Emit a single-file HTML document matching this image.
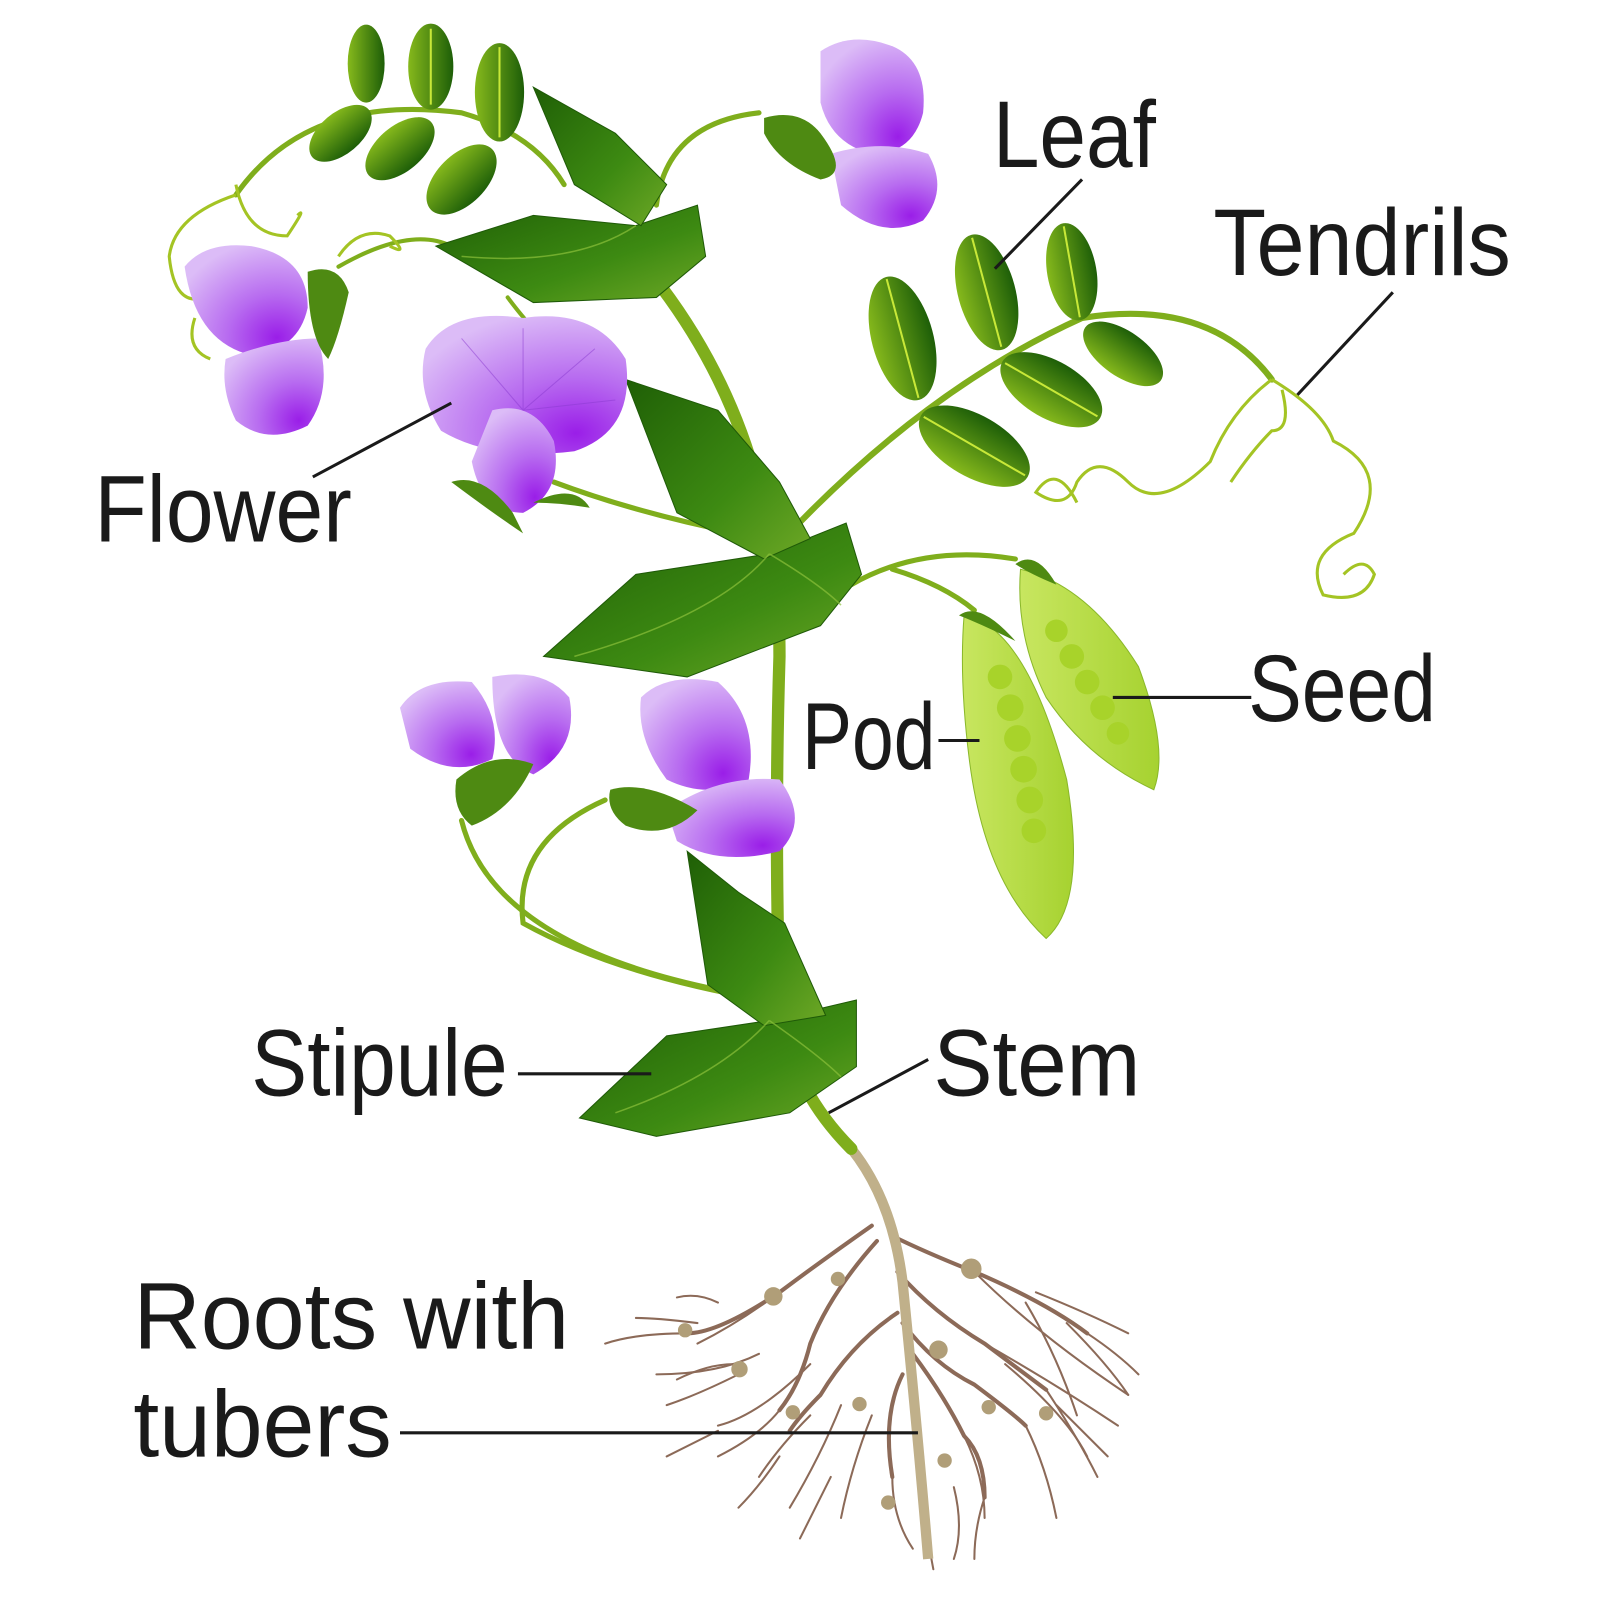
<!DOCTYPE html>
<html><head><meta charset="utf-8"><style>
html,body{margin:0;padding:0;background:#fff}
svg{display:block}
text{font-family:"Liberation Sans",sans-serif;fill:#1a1a1a}
</style></head><body>
<svg width="1600" height="1600" viewBox="0 0 1560 1560" xmlns="http://www.w3.org/2000/svg">
<defs>
<linearGradient id="lg" x1="0" y1="0" x2="1" y2="1"><stop offset="0" stop-color="#1f5f06"/><stop offset="0.6" stop-color="#3d8a12"/><stop offset="1" stop-color="#6ea826"/></linearGradient>
<linearGradient id="lf" x1="0" y1="0" x2="1" y2="0"><stop offset="0" stop-color="#86b91c"/><stop offset="1" stop-color="#1d5e08"/></linearGradient>
<radialGradient id="pu" cx="0.75" cy="0.85" r="0.9"><stop offset="0" stop-color="#9a1ee8"/><stop offset="0.45" stop-color="#b86cf0"/><stop offset="1" stop-color="#dcbcf7"/></radialGradient>
<linearGradient id="pod" x1="0" y1="0" x2="1" y2="0"><stop offset="0" stop-color="#c8e660"/><stop offset="1" stop-color="#a6d230"/></linearGradient>
</defs>

<!-- roots -->
<g fill="none" stroke="#8c6a58" stroke-linecap="round">
<g stroke-width="4">
<path d="M850 1195 Q800 1230 760 1260 Q700 1300 670 1300"/>
<path d="M855 1210 Q810 1260 790 1310 Q780 1350 760 1375"/>
<path d="M875 1280 Q830 1310 800 1360 Q780 1380 770 1395"/>
<path d="M870 1205 Q900 1220 950 1240 Q1020 1270 1060 1300"/>
<path d="M875 1240 Q910 1280 960 1310 Q1000 1340 1020 1355"/>
<path d="M880 1290 Q910 1330 950 1350 Q990 1380 1000 1390"/>
<path d="M890 1320 Q920 1360 940 1400 Q960 1420 960 1460"/>
<path d="M880 1340 Q860 1380 870 1440"/>
</g>
<g stroke-width="2">
<path d="M670 1300 Q620 1300 590 1310 M680 1290 Q640 1285 620 1285 M700 1270 Q680 1260 660 1265"/>
<path d="M720 1340 Q680 1360 650 1370 M715 1330 Q690 1330 660 1345 M760 1375 Q740 1400 700 1420 M790 1380 Q760 1410 740 1440"/>
<path d="M820 1370 Q800 1420 770 1470 M850 1380 Q830 1430 820 1480 M870 1440 Q870 1480 890 1510"/>
<path d="M940 1400 Q960 1440 960 1480 M960 1460 Q950 1490 950 1520 M900 1420 Q900 1480 910 1530"/>
<path d="M1000 1390 Q1020 1430 1030 1480 M1020 1355 Q1050 1400 1070 1440 M1060 1300 Q1090 1320 1110 1340"/>
<path d="M960 1310 Q1030 1350 1090 1390 M950 1240 Q1010 1300 1100 1360 M1000 1270 Q1030 1320 1050 1380"/>
<path d="M760 1260 Q720 1290 680 1310 M740 1320 Q700 1340 640 1340 M790 1330 Q740 1380 700 1390"/>
<path d="M1010 1260 Q1060 1280 1100 1300 M1040 1290 Q1080 1330 1100 1360 M980 1330 Q1040 1380 1060 1420 M1030 1370 Q1060 1400 1080 1420"/>
<path d="M700 1395 Q670 1410 650 1420 M760 1420 Q740 1450 720 1470 M810 1440 Q790 1480 780 1500 M930 1450 Q940 1490 930 1520"/>
</g></g>
<g fill="#b09e78"><circle cx="754" cy="1264" r="9"/><circle cx="817" cy="1247" r="7"/><circle cx="668" cy="1297" r="7"/><circle cx="721" cy="1335" r="8"/><circle cx="773" cy="1377" r="7"/><circle cx="838" cy="1369" r="7"/><circle cx="947" cy="1237" r="10"/><circle cx="915" cy="1316" r="9"/><circle cx="964" cy="1372" r="7"/><circle cx="1020" cy="1378" r="7"/><circle cx="921" cy="1424" r="7"/><circle cx="866" cy="1465" r="7"/></g>
<path d="M830 1120 Q870 1170 880 1250 Q895 1400 905 1520" stroke="#c0b08a" stroke-width="10" fill="none"/>

<!-- stems -->
<g fill="none" stroke="#7fae1c" stroke-linecap="round">
<path d="M830 1120 Q770 1060 760 980 Q755 800 760 640 Q760 560 745 500 Q720 380 645 280" stroke-width="12"/>
<path d="M760 530 Q900 380 1055 310 Q1180 290 1240 370" stroke-width="6"/>
<path d="M230 190 Q300 90 450 110 Q520 130 550 180" stroke-width="5"/>
<path d="M640 200 Q650 120 740 110" stroke-width="5"/>
<path d="M540 470 Q620 500 720 520" stroke-width="5"/>
<path d="M830 570 Q900 530 990 545" stroke-width="5"/>
<path d="M870 555 Q920 570 950 595" stroke-width="5"/>
<path d="M440 240 Q400 220 330 260" stroke-width="4"/>
<path d="M745 975 Q600 950 510 900 Q500 820 590 780" stroke-width="5"/>
<path d="M700 965 Q480 920 450 800" stroke-width="5"/>
<path d="M495 290 Q510 310 520 320" stroke-width="4"/>
</g>
<g fill="none" stroke="#a4c424" stroke-width="3">
<path d="M230 190 Q170 210 165 250 Q170 300 200 290 M190 310 Q180 340 205 350 M230 180 Q240 230 280 230 Q300 200 290 210"/>
<path d="M330 250 Q350 220 380 230 Q400 250 380 240"/>
<path d="M1240 370 Q1200 400 1180 450 Q1130 500 1100 470 Q1070 440 1050 470 Q1040 500 1010 480 Q1030 450 1050 490"/>
<path d="M1240 370 Q1290 400 1300 430 Q1360 460 1320 520 Q1270 540 1290 580 Q1330 590 1340 560 Q1330 540 1310 560"/>
<path d="M1250 380 Q1260 420 1240 420 Q1220 440 1200 470"/>
</g>

<!-- stipules -->
<g fill="url(#lg)" stroke="#1f5a08" stroke-width="1">
<path d="M565 1090 L650 1010 L750 995 L835 975 L835 1040 L770 1085 L640 1108 Z"/>
<path d="M670 830 L720 870 L765 900 L805 990 L745 1000 L690 960 Z"/>
<path d="M530 640 L620 560 L750 540 L825 510 L840 560 L800 610 L670 660 Z"/>
<path d="M610 370 L700 400 L760 470 L790 525 L745 545 L660 500 Z"/>
<path d="M425 240 L520 210 L620 220 L680 200 L688 250 L640 290 L520 295 Z"/>
<path d="M520 85 L600 130 L650 180 L625 220 L560 180 Z"/>
</g>
<g fill="none" stroke="#8cc03a" stroke-width="1.5" opacity="0.7">
<path d="M750 995 Q700 1050 600 1085 M750 995 Q800 1030 820 1050"/>
<path d="M750 540 Q700 600 560 640 M750 540 Q800 570 820 590"/>
<path d="M620 220 Q560 260 450 250"/>
</g>

<!-- leaflets -->
<g fill="url(#lf)">
<ellipse cx="357" cy="62" rx="18" ry="38"/>
<ellipse cx="420" cy="65" rx="22" ry="42"/>
<ellipse cx="487" cy="90" rx="24" ry="48"/>
<ellipse cx="332" cy="130" rx="20" ry="36" transform="rotate(50 332 130)"/>
<ellipse cx="390" cy="145" rx="22" ry="40" transform="rotate(50 390 145)"/>
<ellipse cx="450" cy="175" rx="24" ry="42" transform="rotate(45 450 175)"/>
<ellipse cx="880" cy="330" rx="30" ry="62" transform="rotate(-15 880 330)"/>
<ellipse cx="962" cy="285" rx="28" ry="58" transform="rotate(-15 962 285)"/>
<ellipse cx="1045" cy="265" rx="24" ry="48" transform="rotate(-10 1045 265)"/>
<ellipse cx="950" cy="435" rx="30" ry="60" transform="rotate(-60 950 435)"/>
<ellipse cx="1025" cy="380" rx="28" ry="55" transform="rotate(-60 1025 380)"/>
<ellipse cx="1095" cy="345" rx="22" ry="45" transform="rotate(-55 1095 345)"/>
</g>
<g stroke="#c8e838" stroke-width="2" fill="none">
<line x1="880" y1="270" x2="880" y2="390" transform="rotate(-15 880 330)"/>
<line x1="962" y1="230" x2="962" y2="340" transform="rotate(-15 962 285)"/>
<line x1="1045" y1="220" x2="1045" y2="310" transform="rotate(-10 1045 265)"/>
<line x1="950" y1="378" x2="950" y2="492" transform="rotate(-60 950 435)"/>
<line x1="1025" y1="328" x2="1025" y2="432" transform="rotate(-60 1025 380)"/>
<line x1="420" y1="28" x2="420" y2="102"/>
<line x1="487" y1="46" x2="487" y2="134"/>
</g>

<!-- pods -->
<path d="M940 600 Q1000 610 1040 760 Q1060 880 1020 915 Q960 860 945 740 Q935 660 940 600 Z" fill="url(#pod)" stroke="#8ab82a"/>
<path d="M995 555 Q1060 570 1110 650 Q1140 730 1125 770 Q1060 740 1020 680 Q990 620 995 555 Z" fill="url(#pod)" stroke="#8ab82a"/>
<g fill="#a8d32a"><circle cx="975" cy="660" r="12"/><circle cx="985" cy="690" r="13"/><circle cx="992" cy="720" r="13"/><circle cx="998" cy="750" r="13"/><circle cx="1004" cy="780" r="13"/><circle cx="1008" cy="810" r="12"/><circle cx="1030" cy="615" r="11"/><circle cx="1045" cy="640" r="12"/><circle cx="1060" cy="665" r="12"/><circle cx="1075" cy="690" r="12"/><circle cx="1090" cy="715" r="11"/></g>
<g fill="#4e8a12"><path d="M935 600 Q955 585 990 625 Q960 610 935 600Z"/><path d="M990 550 Q1010 535 1030 570 Q1005 560 990 550Z"/></g>

<!-- flowers -->
<g fill="url(#pu)">
<path d="M800 50 Q830 30 870 45 Q905 60 900 110 Q890 150 850 150 Q810 140 800 100 Z"/>
<path d="M810 150 Q860 135 905 150 Q925 185 900 215 Q860 235 820 200 Z"/>
<path d="M180 260 Q200 235 245 240 Q300 250 300 300 Q290 345 240 345 Q190 330 180 260 Z"/>
<path d="M220 350 Q270 330 310 330 Q325 380 300 415 Q260 435 230 410 Q215 380 220 350 Z"/>
<path d="M415 340 Q440 300 510 310 Q580 300 610 350 Q620 420 560 440 Q480 450 430 420 Q405 380 415 340 Z"/>
<path d="M480 400 Q520 390 540 430 Q550 480 510 500 Q470 500 460 450 Z"/>
<path d="M390 690 Q410 660 460 665 Q490 700 480 740 Q440 760 400 730 Z"/>
<path d="M480 660 Q530 650 555 680 Q565 730 520 755 Q480 740 480 660 Z"/>
<path d="M625 680 Q650 655 700 665 Q740 700 730 760 Q690 780 650 760 Q620 720 625 680 Z"/>
<path d="M650 790 Q700 755 760 760 Q790 800 760 830 Q700 845 660 820 Z"/>
</g>
<g stroke="#8a3ad0" stroke-width="1" fill="none" opacity="0.5">
<path d="M510 400 L450 330 M510 400 L510 320 M510 400 L580 340 M510 400 L600 390"/>
</g>
<g fill="#4e8a12">
<path d="M745 115 Q780 105 800 130 Q830 170 800 175 Q760 160 745 130Z"/>
<path d="M300 265 Q330 255 340 285 Q330 330 320 350 Q300 330 300 265Z"/>
<path d="M445 760 Q480 730 520 745 Q500 790 460 805 Q440 790 445 760Z"/>
<path d="M595 770 Q630 760 680 790 Q650 820 610 805 Q590 790 595 770Z"/>
<path d="M440 470 Q470 460 500 500 L510 520 Q480 500 440 470Z"/>
<path d="M520 490 Q560 470 575 495 Q545 490 520 490Z"/>
</g>

<!-- leader lines -->
<g stroke="#1a1a1a" stroke-width="3">
<line x1="1055" y1="175" x2="970" y2="262"/>
<line x1="1358" y1="285" x2="1265" y2="385"/>
<line x1="305" y1="465" x2="440" y2="393"/>
<line x1="1085" y1="680" x2="1220" y2="680"/>
<line x1="915" y1="722" x2="955" y2="722"/>
<line x1="505" y1="1047" x2="635" y2="1047"/>
<line x1="905" y1="1033" x2="808" y2="1085"/>
<line x1="390" y1="1397" x2="895" y2="1397"/>
</g>

<!-- labels -->
<g font-size="92">
<text x="968" y="163" textLength="159" lengthAdjust="spacingAndGlyphs">Leaf</text>
<text x="1183" y="268" textLength="290" lengthAdjust="spacingAndGlyphs">Tendrils</text>
<text x="92" y="528" textLength="251" lengthAdjust="spacingAndGlyphs">Flower</text>
<text x="1217" y="703" textLength="183" lengthAdjust="spacingAndGlyphs">Seed</text>
<text x="782" y="750" textLength="130" lengthAdjust="spacingAndGlyphs">Pod</text>
<text x="245" y="1068" textLength="250" lengthAdjust="spacingAndGlyphs">Stipule</text>
<text x="910" y="1068" textLength="202" lengthAdjust="spacingAndGlyphs">Stem</text>
<text x="130" y="1315" textLength="425" lengthAdjust="spacingAndGlyphs">Roots with</text>
<text x="130" y="1420" textLength="252" lengthAdjust="spacingAndGlyphs">tubers</text>
</g>
</svg>
</body></html>
